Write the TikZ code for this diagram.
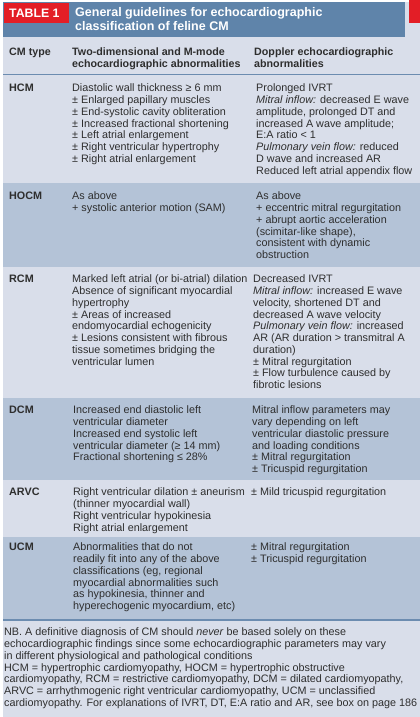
\documentclass[tikz,border=0pt]{standalone}
\usepackage{fontspec}
\setmainfont{Liberation Sans}
\definecolor{bglight}{HTML}{D9DEEA}
\definecolor{bgdark}{HTML}{B4C3D7}
\definecolor{hdrblue}{HTML}{5F84AA}
\definecolor{tabred}{HTML}{E31E26}
\definecolor{rule}{HTML}{6C8CB0}
\definecolor{txt}{HTML}{2E2E2E}
\newcommand{\myst}{\rule{0pt}{8.6pt}}
\newcommand{\mystb}{\rule{0pt}{9.9pt}}
\begin{document}
\begin{tikzpicture}[x=1pt,y=-1pt,
  body/.style={anchor=north west, inner sep=0pt, align=left, text=txt, font={\fontsize{10.8}{11.75}\selectfont}},
  colhead/.style={anchor=north west, inner sep=0pt, align=left, text=txt, font={\fontsize{10.7}{11.5}\selectfont\bfseries}},
  rowlabel/.style={anchor=north west, inner sep=0pt, text=txt, font={\fontsize{10.8}{11.75}\selectfont\bfseries}},
  titletext/.style={anchor=north west, inner sep=0pt, align=left, text=white, font={\fontsize{12.5}{14}\selectfont\bfseries}}]
\useasboundingbox (0,0) rectangle (420,717);
\fill[white] (0,0) rectangle (420,717);
% table background
\fill[bglight] (3,2) rectangle (420,717);
% header band
\fill[hdrblue] (3,2) rectangle (405,37.5);
\fill[tabred] (4,3) rectangle (69,23);
\fill[tabred] (409,0) rectangle (420,23);
\node[anchor=west, inner sep=0pt, text=white, font={\fontsize{12.3}{14}\selectfont\bfseries}] (tab) at (9,12.8) {TABLE 1};
\node[titletext] (title) at (75,6.5) {\mystb General guidelines for echocardiographic\\classification of feline CM};
% column header divider
\draw[rule, line width=1pt] (3,74.5) -- (420,74.5);
% darker rows
\fill[bgdark] (3,183) rectangle (420,267);
\fill[bgdark] (3,398) rectangle (420,480);
\fill[bgdark] (3,537) rectangle (420,619.5);
\draw[rule, line width=1.3pt] (3,620) -- (420,620);
% column headers
\node[colhead] (h1) at (9,47) {\myst CM type};
\node[colhead] (h2) at (72,47) {\myst Two-dimensional and M-mode\\echocardiographic abnormalities};
\node[colhead] (h3) at (254,47) {\myst Doppler echocardiographic\\abnormalities};
% HCM
\node[rowlabel] (hcm) at (9,83) {\myst HCM};
\node[body] (hcmA) at (72,83) {\myst Diastolic wall thickness ≥ 6 mm\\± Enlarged papillary muscles\\± End-systolic cavity obliteration\\± Increased fractional shortening\\± Left atrial enlargement\\± Right ventricular hypertrophy\\± Right atrial enlargement};
\node[body] (hcmB) at (256,83) {\myst Prolonged IVRT\\\textit{Mitral inflow:} decreased E wave\\amplitude, prolonged DT and\\increased A wave amplitude;\\E:A ratio < 1\\\textit{Pulmonary vein flow:} reduced\\D wave and increased AR\\Reduced left atrial appendix flow};
% HOCM
\node[rowlabel] (hocm) at (9,191) {\myst HOCM};
\node[body] (hocmA) at (72,191) {\myst As above\\+ systolic anterior motion (SAM)};
\node[body] (hocmB) at (256,191) {\myst As above\\+ eccentric mitral regurgitation\\+ abrupt aortic acceleration\\(scimitar-like shape),\\consistent with dynamic\\obstruction};
% RCM
\node[rowlabel] (rcm) at (9,274) {\myst RCM};
\node[body] (rcmA) at (72,274) {\myst Marked left atrial (or bi-atrial) dilation\\Absence of significant myocardial\\hypertrophy\\± Areas of increased\\endomyocardial echogenicity\\± Lesions consistent with fibrous\\tissue sometimes bridging the\\ventricular lumen};
\node[body] (rcmB) at (253,274) {\myst Decreased IVRT\\\textit{Mitral inflow:} increased E wave\\velocity, shortened DT and\\decreased A wave velocity\\\textit{Pulmonary vein flow:} increased\\AR (AR duration > transmitral A\\duration)\\± Mitral regurgitation\\± Flow turbulence caused by\\fibrotic lesions};
% DCM
\node[rowlabel] (dcm) at (9,405) {\myst DCM};
\node[body] (dcmA) at (73,405) {\myst Increased end diastolic left\\ventricular diameter\\Increased end systolic left\\ventricular diameter (≥ 14 mm)\\Fractional shortening ≤ 28\%};
\node[body] (dcmB) at (252,405) {\myst Mitral inflow parameters may\\vary depending on left\\ventricular diastolic pressure\\and loading conditions\\± Mitral regurgitation\\± Tricuspid regurgitation};
% ARVC
\node[rowlabel] (arvc) at (9,487) {\myst ARVC};
\node[body] (arvcA) at (73,487) {\myst Right ventricular dilation ± aneurism\\(thinner myocardial wall)\\Right ventricular hypokinesia\\Right atrial enlargement};
\node[body] (arvcB) at (251,487) {\myst ± Mild tricuspid regurgitation};
% UCM
\node[rowlabel] (ucm) at (9,542) {\myst UCM};
\node[body] (ucmA) at (73,542) {\myst Abnormalities that do not\\readily fit into any of the above\\classifications (eg, regional\\myocardial abnormalities such\\as hypokinesia, thinner and\\hyperechogenic myocardium, etc)};
\node[body] (ucmB) at (251,542) {\myst ± Mitral regurgitation\\± Tricuspid regurgitation};
% notes
\node[body] (notes) at (4,627) {\myst NB. A definitive diagnosis of CM should \textit{never} be based solely on these\\echocardiographic findings since some echocardiographic parameters may vary\\in different physiological and pathological conditions\\HCM = hypertrophic cardiomyopathy, HOCM = hypertrophic obstructive\\cardiomyopathy, RCM = restrictive cardiomyopathy, DCM = dilated cardiomyopathy,\\ARVC = arrhythmogenic right ventricular cardiomyopathy, UCM = unclassified\\cardiomyopathy. For explanations of IVRT, DT, E:A ratio and AR, see box on page 186};
\end{tikzpicture}
\end{document}
